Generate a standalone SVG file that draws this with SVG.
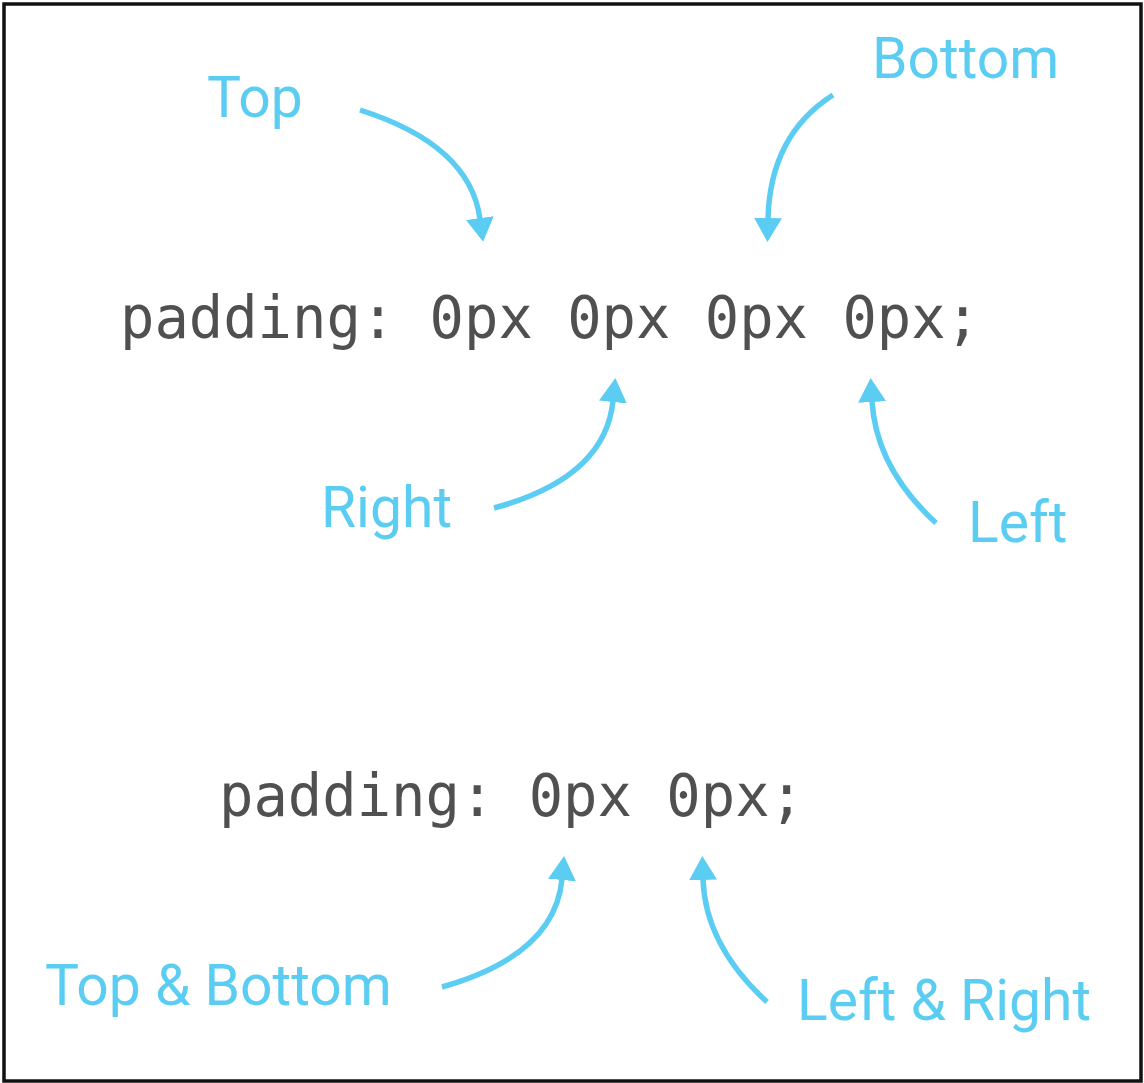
<svg xmlns="http://www.w3.org/2000/svg" width="1144" height="1083" viewBox="0 0 1144 1083">
  <style>
    .code { font-family: "DejaVu Sans Mono", "Liberation Mono", monospace; font-size: 59px; fill: #505050; }
    .lbl { font-family: Roboto, "Noto Sans", "Liberation Sans", sans-serif; font-size: 57px; fill: #5BCDF2; }
    .arr { fill: none; stroke: #5BCDF2; stroke-width: 5.5; stroke-linecap: butt; marker-end: url(#head); }
  </style>
  <defs>
    <marker id="head" viewBox="0 0 24 28" refX="1" refY="14" markerWidth="24" markerHeight="28" markerUnits="userSpaceOnUse" orient="auto">
      <path d="M0,0 L24,14 L0,28 Z" fill="#5BCDF2"/>
    </marker>
  </defs>
  <rect x="4" y="4" width="1137" height="1077" fill="#ffffff" stroke="#111111" stroke-width="3.5"/>

  <g id="code1"><text class="code" x="120" y="338" textLength="860" lengthAdjust="spacingAndGlyphs">padding: 0px 0px 0px 0px;</text></g>
  <g id="code2"><text class="code" x="219" y="816" textLength="585" lengthAdjust="spacingAndGlyphs">padding: 0px 0px;</text></g>

  <g id="label-top"><text class="lbl" x="207" y="117">Top</text></g>
  <g id="label-bottom"><text class="lbl" x="872" y="78">Bottom</text></g>
  <g id="label-right"><text class="lbl" x="321" y="527">Right</text></g>
  <g id="label-left"><text class="lbl" x="968" y="542">Left</text></g>
  <g id="label-topbottom"><text class="lbl" x="45" y="1005">Top &amp; Bottom</text></g>
  <g id="label-leftright"><text class="lbl" x="797" y="1020">Left &amp; Right</text></g>

  <g id="connectors">
    <path class="arr" d="M360,110 Q470,145 480,219"/>
    <path class="arr" d="M833,95 Q770,135 768,219"/>
    <path class="arr" d="M494,508 Q605,478 613,401"/>
    <path class="arr" d="M936,523 Q876,468 872,401"/>
    <path class="arr" d="M442,987 Q555,955 562,879"/>
    <path class="arr" d="M767,1002 Q705,945 703,879"/>
  </g>
</svg>
